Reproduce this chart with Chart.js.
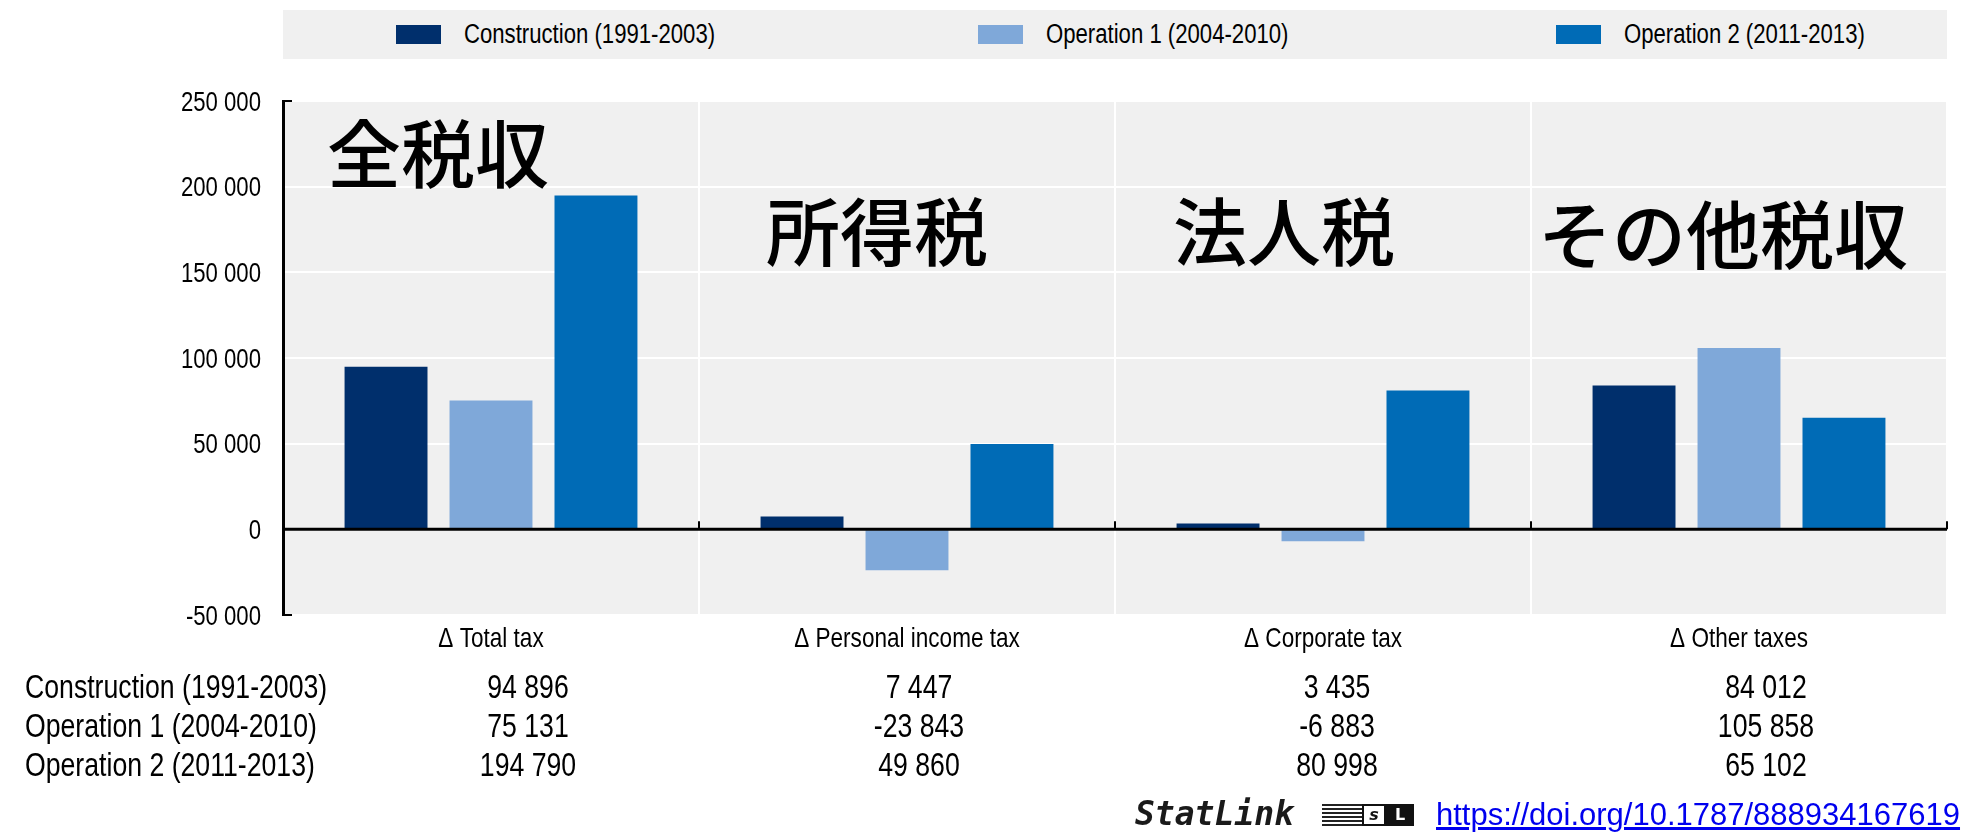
<!DOCTYPE html>
<html>
<head>
<meta charset="utf-8">
<script src="https://cdn.jsdelivr.net/npm/chart.js@4.4.0/dist/chart.umd.min.js"></script>
<style>
  body { margin: 0; background: #fff; font-family: "Liberation Sans", Arial, sans-serif; }
  #wrap { position: relative; width: 1967px; height: 832px; overflow: hidden; }
  #chart { position: absolute; left: 0; top: 0; }
  #legend { position: absolute; left: 283px; top: 10px; width: 1664px; height: 49px; background: #f0f0f0; }
  .item { position: absolute; top: 0; height: 49px; display: flex; align-items: center; font-size: 27px; color: #000; white-space: nowrap; }
  .item span.t { display: inline-block; transform: scaleX(0.82); transform-origin: left center; }
  .swatch { width: 45px; height: 19px; margin-right: 23px; }
  .note { position: absolute; font-family: "Noto Sans CJK JP", sans-serif; font-weight: 500; font-size: 74px; line-height: 1; color: #000; white-space: nowrap; }
  .rowlabel { position: absolute; left: 25px; font-size: 32.5px; line-height: 36px; transform: translateY(-50%) scaleX(0.82); transform-origin: left center; white-space: nowrap; color: #000; }
  .cell { position: absolute; font-size: 32.5px; line-height: 36px; transform: translate(-50%, -50%) scaleX(0.82); white-space: nowrap; color: #000; }
  .logo { position: absolute; left: 1135px; top: 795px; font-family: "DejaVu Sans Mono", monospace; font-style: italic; font-weight: bold; font-size: 33px; line-height: 38px; color: #1a1a1a; white-space: nowrap; }
  .icon { position: absolute; left: 1322px; top: 804px; height: 22px; display: flex; align-items: stretch; }
  .icon .stripes { width: 40px; background: repeating-linear-gradient(to bottom, #222 0 2px, #fff 2px 4px); }
  .icon .s { width: 20px; border: 2px solid #111; font-family: "DejaVu Sans", sans-serif; font-style: italic; font-weight: bold; font-size: 16px; line-height: 18px; text-align: center; color: #111; }
  .icon .l { width: 28px; background: #111; color: #fff; font-family: "DejaVu Sans", sans-serif; font-weight: bold; font-size: 16px; line-height: 22px; text-align: center; }
  .link { position: absolute; left: 1436px; top: 797px; font-family: "Liberation Sans", Arial, sans-serif; font-size: 31px; line-height: 36px; color: #0000ee; text-decoration: underline; white-space: nowrap; }
</style>
</head>
<body>
<div id="wrap">
  <canvas id="chart" width="1967" height="832"></canvas>
  <div id="legend"></div>
  <div id="notes"></div>
  <div id="table"></div>
  <span class="logo">StatLink</span>
  <span class="icon"><span class="stripes"></span><span class="s">s</span><span class="l">L</span></span>
  <a class="link" href="https://doi.org/10.1787/888934167619">https://doi.org/10.1787/888934167619</a>
</div>
<script>
// Categories and series
const categories = ['Δ Total tax', 'Δ Personal income tax', 'Δ Corporate tax', 'Δ Other taxes'];
const seriesNames = ['Construction (1991-2003)', 'Operation 1 (2004-2010)', 'Operation 2 (2011-2013)'];
const construction = [94896, 7447, 3435, 84012];
const operation1 = [75131, -23843, -6883, 105858];
const operation2 = [194790, 49860, 80998, 65102];
const seriesColors = ['#002F6C', '#7FA8D9', '#006BB6'];
const yTicks = [-50000, 0, 50000, 100000, 150000, 200000, 250000];
const notes = ['全税収', '所得税', '法人税', 'その他税収'];

// Layout of the overlay texts
const legendLeft = [113, 695, 1273];
const notePos = [[327, 113], [766, 191], [1173, 191], [1538, 194]];
const tableCols = [528, 919, 1337, 1766];
const tableRows = [687, 726, 765];
const narrow = 0.82; // the original uses a condensed Arial

// Format numbers with a space as thousands separator
function fmt(v) {
  const s = Math.abs(v).toString().replace(/\B(?=(\d{3})+(?!\d))/g, ' ');
  return (v < 0 ? '-' : '') + s;
}

const allSeries = [construction, operation1, operation2];

// Legend
const legend = document.getElementById('legend');
seriesNames.forEach((name, i) => {
  const item = document.createElement('div');
  item.className = 'item';
  item.style.left = legendLeft[i] + 'px';
  item.innerHTML = '<span class="swatch" style="background:' + seriesColors[i] + '"></span><span class="t">' + name + '</span>';
  legend.appendChild(item);
});

// Japanese notes
const notesDiv = document.getElementById('notes');
notes.forEach((t, i) => {
  const d = document.createElement('div');
  d.className = 'note';
  d.style.left = notePos[i][0] + 'px';
  d.style.top = notePos[i][1] + 'px';
  d.textContent = t;
  notesDiv.appendChild(d);
});

// Data table under the chart
const table = document.getElementById('table');
seriesNames.forEach((name, r) => {
  const lab = document.createElement('div');
  lab.className = 'rowlabel';
  lab.style.top = tableRows[r] + 'px';
  lab.textContent = name;
  table.appendChild(lab);
  allSeries[r].forEach((v, c) => {
    const cell = document.createElement('div');
    cell.className = 'cell';
    cell.style.left = tableCols[c] + 'px';
    cell.style.top = tableRows[r] + 'px';
    cell.textContent = fmt(v);
    table.appendChild(cell);
  });
});

// draw condensed text on the canvas
function narrowText(ctx, text, x, y, align) {
  ctx.save();
  ctx.translate(x, y);
  ctx.scale(narrow, 1);
  ctx.textAlign = align;
  ctx.textBaseline = 'alphabetic';
  ctx.fillText(text, 0, 0);
  ctx.restore();
}

// Plot background, zero line, small axis marks and condensed tick labels
const plotDecor = {
  id: 'plotDecor',
  beforeDraw(chart) {
    const { ctx, chartArea: a } = chart;
    ctx.save();
    ctx.fillStyle = '#f0f0f0';
    ctx.fillRect(a.left, a.top, a.right - a.left, a.bottom - a.top);
    ctx.restore();
  },
  afterDatasetsDraw(chart) {
    const { ctx, chartArea: a, scales: { x, y } } = chart;
    const y0 = y.getPixelForValue(0);
    ctx.save();
    ctx.strokeStyle = '#000';
    ctx.lineWidth = 3;
    ctx.beginPath();
    ctx.moveTo(a.left, y0);
    ctx.lineTo(a.right, y0);
    ctx.stroke();
    ctx.lineWidth = 2;
    for (let i = 0; i < categories.length; i++) {
      const bx = x.getPixelForValue(i + 0.5);
      ctx.beginPath();
      ctx.moveTo(bx, y0);
      ctx.lineTo(bx, y0 - 8);
      ctx.stroke();
    }
    [y.getPixelForValue(yTicks[yTicks.length - 1]), y.getPixelForValue(yTicks[0])].forEach(py => {
      ctx.beginPath();
      ctx.moveTo(a.left, py);
      ctx.lineTo(a.left + 9, py);
      ctx.stroke();
    });

    // tick labels
    ctx.fillStyle = '#000';
    ctx.font = '27px "Liberation Sans", Arial, sans-serif';
    y.ticks.forEach(t => {
      narrowText(ctx, fmt(t.value), a.left - 22, y.getPixelForValue(t.value) + 9.5, 'right');
    });
    ctx.font = '27.5px "Liberation Sans", Arial, sans-serif';
    x.getLabels().forEach((lab, i) => {
      narrowText(ctx, lab, x.getPixelForValue(i), a.bottom + 32, 'center');
    });
    ctx.restore();
  }
};

new Chart(document.getElementById('chart'), {
  type: 'bar',
  data: {
    labels: categories,
    datasets: seriesNames.map((name, i) => ({
      label: name,
      data: allSeries[i],
      backgroundColor: seriesColors[i],
      borderWidth: 0
    }))
  },
  options: {
    responsive: false,
    animation: false,
    devicePixelRatio: 1,
    layout: { padding: { top: 101, right: 20, left: 0, bottom: 0 } },
    datasets: { bar: { categoryPercentage: 0.757, barPercentage: 0.79 } },
    plugins: { legend: { display: false }, tooltip: { enabled: false } },
    scales: {
      x: {
        grid: {
          offset: true,
          drawTicks: false,
          lineWidth: 2,
          color: c => (c.index === 0 ? 'rgba(0,0,0,0)' : '#ffffff')
        },
        border: { display: false },
        ticks: { display: false },
        afterFit(s) { s.height = 217; }
      },
      y: {
        min: yTicks[0],
        max: yTicks[yTicks.length - 1],
        afterBuildTicks(s) { s.ticks = yTicks.map(v => ({ value: v })); },
        ticks: { display: false },
        grid: { drawTicks: false, lineWidth: 2, color: '#ffffff' },
        border: { color: '#000', width: 3 },
        afterFit(s) { s.width = 283; }
      }
    }
  },
  plugins: [plotDecor]
});
</script>
</body>
</html>
